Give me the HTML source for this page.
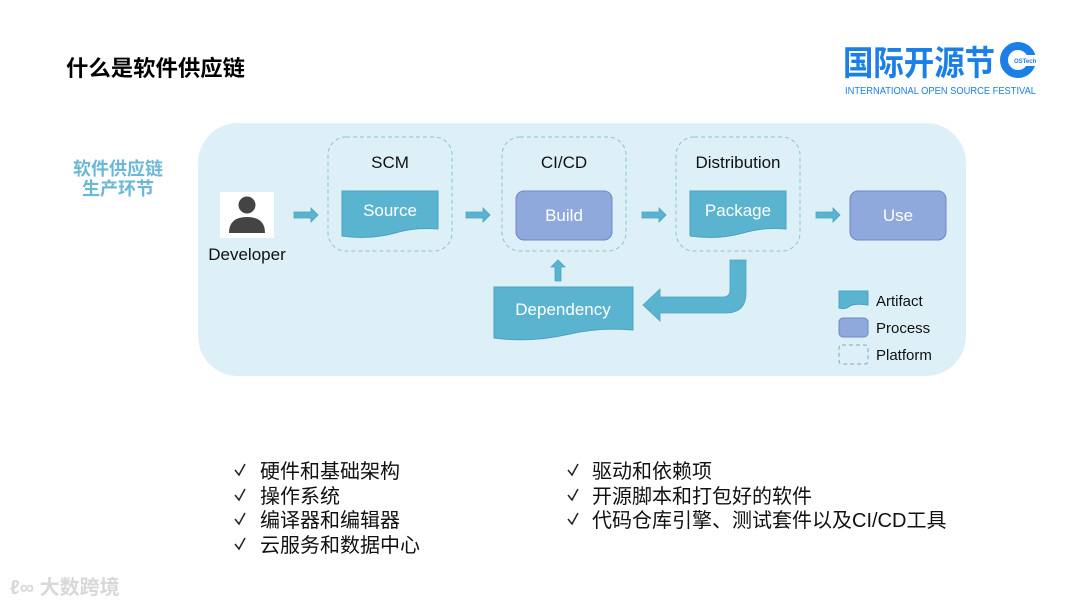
<!DOCTYPE html>
<html><head><meta charset="utf-8"><style>
html,body{margin:0;padding:0;background:#fff;}
svg{display:block}
</style></head><body>
<svg width="1080" height="608" viewBox="0 0 1080 608" xmlns="http://www.w3.org/2000/svg" font-family="'Liberation Sans','Noto Sans CJK SC',sans-serif">
<rect width="1080" height="608" fill="#fff"/>
<text x="66" y="76" font-size="22" font-weight="bold" fill="#000" textLength="179" lengthAdjust="spacingAndGlyphs">什么是软件供应链</text>
<!-- logo -->
<text x="843" y="75" font-size="34" font-weight="bold" fill="#1a7fe6" textLength="152" lengthAdjust="spacingAndGlyphs">国际开源节</text>
<circle cx="1018" cy="60" r="14" fill="none" stroke="#1a7fe6" stroke-width="8"/>
<rect x="1016" y="55" width="22" height="11" fill="#fff"/>
<text x="1014" y="63" font-size="6" fill="#1a7fe6" font-weight="bold">OSTech</text>
<text x="845" y="94" font-size="10" fill="#1a7fe6" textLength="191" lengthAdjust="spacingAndGlyphs">INTERNATIONAL OPEN SOURCE FESTIVAL</text>
<!-- left label -->
<text x="118" y="175" font-size="18" font-weight="bold" fill="#6bb8d6" text-anchor="middle">软件供应链</text>
<text x="118" y="195" font-size="18" font-weight="bold" fill="#6bb8d6" text-anchor="middle">生产环节</text>
<!-- panel -->
<rect x="198" y="123" width="768" height="253" rx="40" fill="#def0f7"/>
<!-- developer -->
<rect x="220" y="192" width="54" height="46" fill="#fff"/>
<circle cx="247" cy="205" r="8.5" fill="#444"/>
<path d="M229 233 Q229 217 247 217 Q265 217 265 233 Z" fill="#444"/>
<text x="247" y="260" font-size="17" fill="#111" text-anchor="middle">Developer</text>
<!-- platform boxes -->
<g fill="none" stroke="#8cc3d6" stroke-dasharray="4,3" stroke-width="1">
<rect x="328" y="137" width="124" height="114" rx="18"/>
<rect x="502" y="137" width="124" height="114" rx="18"/>
<rect x="676" y="137" width="124" height="114" rx="18"/>
</g>
<g font-size="17" fill="#111" text-anchor="middle">
<text x="390" y="168">SCM</text><text x="564" y="168">CI/CD</text><text x="738" y="168">Distribution</text>
</g>
<!-- artifacts -->
<g fill="#5bb4cf" stroke="#4aa3bf" stroke-width="1">
<path d="M342 191 H438 V229 Q415 227 395 233 Q370 240 342 236 Z"/>
<path d="M690 191 H786 V229 Q763 227 743 233 Q718 240 690 236 Z"/>
<path d="M494 287 H633 V330 Q600 327 570 334 Q530 343 494 338 Z"/>
</g>
<g font-size="17" fill="#fff" text-anchor="middle">
<text x="390" y="216">Source</text><text x="738" y="216">Package</text><text x="563" y="315">Dependency</text>
</g>
<!-- processes -->
<g fill="#8fa9dc" stroke="#6a89c4" stroke-width="1">
<rect x="516" y="191" width="96" height="49" rx="8"/>
<rect x="850" y="191" width="96" height="49" rx="8"/>
</g>
<g font-size="17" fill="#fff" text-anchor="middle">
<text x="564" y="221">Build</text><text x="898" y="221">Use</text>
</g>
<!-- small arrows -->
<g fill="#5bb4cf" stroke="#4aa3bf" stroke-width="0.8">
<path d="M294 212 H311 V208 L318 215 L311 222 V218 H294 Z"/>
<path d="M466 212 H483 V208 L490 215 L483 222 V218 H466 Z"/>
<path d="M642 212 H659 V208 L666 215 L659 222 V218 H642 Z"/>
<path d="M816 212 H833 V208 L840 215 L833 222 V218 H816 Z"/>
<path d="M555 281 V267 H551 L558 260 L565 267 H561 V281 Z"/>
<path d="M730 260 H746 V293 Q746 313 726 313 H660 V321 L643 305 L660 289 V297 H723 Q730 297 730 290 Z"/>
</g>
<!-- legend -->
<path d="M839 291 H868 V305 Q855 303 850 306 Q845 310 839 308 Z" fill="#5bb4cf" stroke="#4aa3bf"/>
<rect x="839" y="318" width="29" height="19" rx="4" fill="#8fa9dc" stroke="#6a89c4"/>
<rect x="839" y="345" width="29" height="19" rx="3" fill="none" stroke="#7fa9bd" stroke-dasharray="4,3"/>
<g font-size="15" fill="#111">
<text x="876" y="306">Artifact</text><text x="876" y="333">Process</text><text x="876" y="360">Platform</text>
</g>
<!-- bullets -->
<g fill="none" stroke="#222" stroke-width="1.5">
<path d="M235 470 L239 475 L245 464"/>
<path d="M235 495 L239 500 L245 489"/>
<path d="M235 519 L239 524 L245 513"/>
<path d="M235 544 L239 549 L245 538"/>
<path d="M568 470 L572 475 L578 464"/>
<path d="M568 495 L572 500 L578 489"/>
<path d="M568 519 L572 524 L578 513"/>
</g>
<g font-size="20" fill="#111">
<text x="260" y="478">硬件和基础架构</text>
<text x="260" y="503">操作系统</text>
<text x="260" y="527">编译器和编辑器</text>
<text x="260" y="552">云服务和数据中心</text>
<text x="592" y="478">驱动和依赖项</text>
<text x="592" y="503">开源脚本和打包好的软件</text>
<text x="592" y="527">代码仓库引擎、测试套件以及CI/CD工具</text>
</g>
<!-- watermark -->
<text x="10" y="594" font-size="20" fill="#d8d8d8" font-weight="bold">ℓ∞ 大数跨境</text>
</svg>
</body></html>
